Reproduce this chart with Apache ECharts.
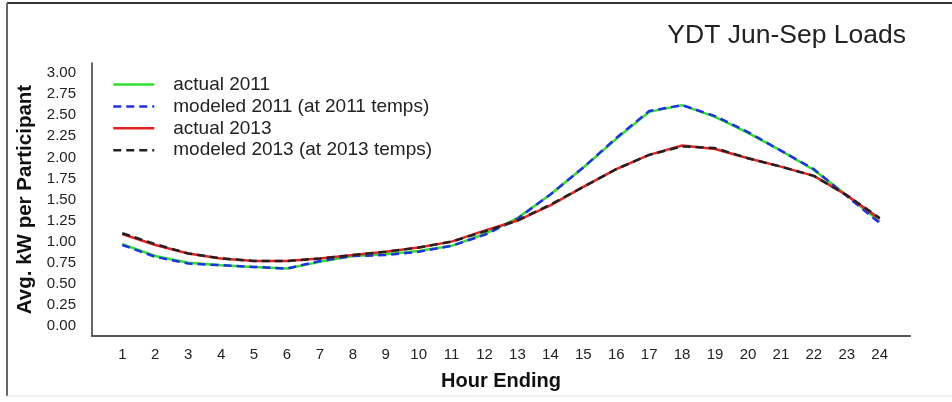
<!DOCTYPE html>
<html>
<head>
<meta charset="utf-8">
<script src="https://cdn.jsdelivr.net/npm/echarts@6/dist/echarts.min.js"></script>
<style>html,body{margin:0;padding:0;background:#fff;}#c{width:952px;height:402px;}</style>
</head>
<body>
<div id="c"></div>
<script>
var hours = [1,2,3,4,5,6,7,8,9,10,11,12,13,14,15,16,17,18,19,20,21,22,23,24];
var actual2011 = [0.97,0.83,0.75,0.72,0.70,0.68,0.76,0.83,0.85,0.89,0.95,1.09,1.28,1.56,1.88,2.22,2.54,2.62,2.48,2.29,2.08,1.85,1.55,1.24];
var modeled2011 = [0.96,0.82,0.74,0.72,0.70,0.68,0.77,0.83,0.84,0.88,0.95,1.08,1.27,1.56,1.88,2.23,2.55,2.62,2.49,2.30,2.08,1.86,1.54,1.22];
var actual2013 = [1.09,0.96,0.86,0.80,0.77,0.77,0.80,0.84,0.88,0.93,1.00,1.13,1.25,1.43,1.65,1.86,2.03,2.14,2.10,1.99,1.89,1.78,1.55,1.27];
var modeled2013 = [1.10,0.97,0.86,0.80,0.77,0.77,0.80,0.84,0.88,0.93,1.00,1.12,1.25,1.44,1.65,1.86,2.03,2.13,2.11,1.99,1.89,1.78,1.55,1.28];
var yTicks = [0,0.25,0.5,0.75,1,1.25,1.5,1.75,2,2.25,2.5,2.75,3];
var seriesNames = ['actual 2011','modeled 2011 (at 2011 temps)','actual 2013','modeled 2013 (at 2013 temps)'];

function pairs(vals){ return hours.map(function(h,i){ return [h, vals[i]]; }); }

var chart = echarts.init(document.getElementById('c'), null, {renderer:'canvas'});
var font = 'Liberation Sans, Arial, sans-serif';
function mk(name, vals, color, type){
  return {
    name: name, type: 'line', data: pairs(vals), symbol: 'none', showSymbol: false, smooth: false,
    lineStyle: {color: color, width: 2.5, type: type},
    itemStyle: {color: color}, animation: false
  };
}
chart.setOption({
  backgroundColor: '#fff',
  animation: false,
  title: {
    text: 'YDT Jun-Sep Loads', right: 46, top: 22, padding: 0,
    textStyle: {fontFamily: font, fontSize: 26.5, fontWeight: 'normal', color: '#222'}
  },
  legend: {
    orient: 'vertical', left: 112, top: 75, padding: 0, itemWidth: 41, itemHeight: 14, itemGap: 2.9,
    data: seriesNames,
    itemStyle: {opacity: 0},
    lineStyle: {width: 2.5},
    textStyle: {fontFamily: font, fontSize: 19, lineHeight: 16, color: '#222', padding: [0,0,0,14]}
  },
  grid: {left: 92, right: 42, top: 63, bottom: 66},
  xAxis: {
    type: 'value', min: 0.08, max: 24.92,
    name: 'Hour Ending', nameLocation: 'middle', nameGap: 35,
    nameTextStyle: {fontFamily: font, fontSize: 20, fontWeight: 'bold', color: '#111'},
    axisLine: {show: true, onZero: false, lineStyle: {color: '#555', width: 2}},
    axisTick: {show: false},
    splitLine: {show: false},
    axisLabel: {customValues: hours, fontFamily: font, fontSize: 15, color: '#222', margin: 11}
  },
  yAxis: {
    type: 'value', min: -0.12, max: 3.12,
    name: 'Avg. kW per Participant', nameLocation: 'middle', nameGap: 50,
    nameTextStyle: {fontFamily: font, fontSize: 20.5, fontWeight: 'bold', color: '#111'},
    axisLine: {show: true, lineStyle: {color: '#333', width: 1.5}},
    axisTick: {show: false},
    splitLine: {show: false},
    axisLabel: {customValues: yTicks, fontFamily: font, fontSize: 15, color: '#222', margin: 16,
      formatter: function(v){ return v.toFixed(2); }}
  },
  graphic: [
    {type: 'line', shape: {x1: 7, y1: 3, x2: 952, y2: 3}, style: {stroke: '#333', lineWidth: 2}, silent: true},
    {type: 'line', shape: {x1: 7, y1: 3, x2: 7, y2: 396}, style: {stroke: '#666', lineWidth: 2}, silent: true},
    {type: 'line', shape: {x1: 7, y1: 396, x2: 952, y2: 396}, style: {stroke: '#e4e4e4', lineWidth: 1}, silent: true}
  ],
  series: [
    mk(seriesNames[0], actual2011, '#2fe02f', 'solid'),
    mk(seriesNames[1], modeled2011, '#2030e8', [8,5]),
    mk(seriesNames[2], actual2013, '#e52222', 'solid'),
    mk(seriesNames[3], modeled2013, '#222222', [8,5])
  ]
});
</script>
</body>
</html>
